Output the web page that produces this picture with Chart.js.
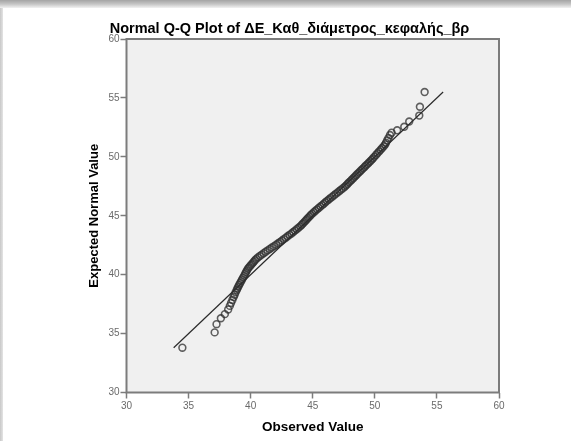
<!DOCTYPE html>
<html>
<head>
<meta charset="utf-8">
<script src="https://cdn.jsdelivr.net/npm/chart.js@4.4.0/dist/chart.umd.min.js"></script>
<style>
	body { margin: 0; width: 571px; height: 441px; overflow: hidden; background: #fff; }
	#topband { position: absolute; left: 0; top: 0; width: 571px; height: 9px;
		background: linear-gradient(to bottom, #a4a4a4 0px, #c4c4c4 4px, #e6e6e6 7px, #ffffff 9px); }
	#leftband { position: absolute; left: 0; top: 8px; width: 3px; height: 433px;
		background: linear-gradient(to right, #c8c8c8, #e4e4e4); }
	#wrap { position: absolute; left: 3px; top: 8px; width: 568px; height: 433px; background: #fff; }
</style>
</head>
<body>
<div id="topband"></div>
<div id="leftband"></div>
<div id="wrap"><canvas id="qq-graph" width="568" height="433"></canvas></div>
<script>
let observed = [
	34.5, 37.1, 37.25, 37.6, 37.92, 38.19, 38.32, 38.42, 38.53, 38.63,
	38.71, 38.79, 38.88, 38.94, 39.01, 39.08, 39.16, 39.24, 39.31, 39.39,
	39.47, 39.55, 39.62, 39.7, 39.78, 39.86, 39.96, 40.06, 40.16, 40.25,
	40.35, 40.45, 40.58, 40.74, 40.89, 41.05, 41.21, 41.37, 41.54, 41.71,
	41.88, 42.05, 42.22, 42.37, 42.53, 42.68, 42.83, 42.98, 43.13, 43.29,
	43.43, 43.57, 43.71, 43.85, 43.99, 44.1, 44.21, 44.32, 44.42, 44.53,
	44.63, 44.74, 44.85, 44.96, 45.09, 45.22, 45.35, 45.48, 45.62, 45.76,
	45.89, 46.02, 46.15, 46.29, 46.43, 46.57, 46.72, 46.86, 47.0, 47.15,
	47.29, 47.43, 47.58, 47.69, 47.8, 47.91, 48.03, 48.14, 48.26, 48.37,
	48.48, 48.59, 48.71, 48.82, 48.94, 49.05, 49.17, 49.28, 49.4, 49.51,
	49.63, 49.74, 49.84, 49.96, 50.09, 50.21, 50.34, 50.47, 50.59, 50.72,
	50.83, 50.9, 51.0, 51.1, 51.22, 51.35, 51.8, 52.37, 52.77, 53.58,
	53.63, 54.01,
];
//expected normal values (y)
let expected = [
	33.8, 35.1, 35.8, 36.3, 36.65, 37.05, 37.35, 37.6, 37.85, 38.1,
	38.3, 38.5, 38.7, 38.85, 39.0, 39.15, 39.3, 39.45, 39.6, 39.75,
	39.9, 40.05, 40.2, 40.35, 40.5, 40.62, 40.74, 40.86, 40.98, 41.1,
	41.22, 41.34, 41.46, 41.58, 41.7, 41.82, 41.94, 42.06, 42.18, 42.3,
	42.42, 42.54, 42.66, 42.78, 42.9, 43.02, 43.14, 43.26, 43.38, 43.5,
	43.62, 43.74, 43.86, 43.98, 44.1, 44.22, 44.34, 44.46, 44.58, 44.7,
	44.82, 44.94, 45.06, 45.18, 45.3, 45.42, 45.54, 45.66, 45.78, 45.9,
	46.02, 46.14, 46.26, 46.38, 46.5, 46.62, 46.74, 46.86, 46.98, 47.1,
	47.22, 47.34, 47.46, 47.58, 47.7, 47.82, 47.94, 48.06, 48.18, 48.3,
	48.42, 48.54, 48.66, 48.78, 48.9, 49.02, 49.14, 49.26, 49.38, 49.5,
	49.62, 49.74, 49.86, 50.0, 50.15, 50.3, 50.45, 50.6, 50.75, 50.9,
	51.05, 51.2, 51.4, 51.6, 51.85, 52.05, 52.25, 52.55, 53.0, 53.5,
	54.25, 55.5,
];
//reference line y = x, start and end
let refLine = [33.8, 55.5];
let axisMin = 30;
let axisMax = 60;
let axisStep = 5;

let titleText = "Normal Q-Q Plot of ΔΕ_Καθ_διάμετρος_κεφαλής_βρ";
let xTitle = "Observed Value";
let yTitle = "Expected Normal Value";

//draws the grey plot box, the frame and the titles
let qqDecor = {
	id: "qqDecor",
	beforeDraw(chart) {
		let ctx = chart.ctx;
		let a = chart.chartArea;
		ctx.save();
		ctx.fillStyle = "#f0f0f0";
		ctx.fillRect(a.left, a.top, a.right - a.left, a.bottom - a.top);
		ctx.restore();
	},
	afterDraw(chart) {
		let ctx = chart.ctx;
		let a = chart.chartArea;
		ctx.save();
		ctx.strokeStyle = "#7c7c7c";
		ctx.lineWidth = 2;
		ctx.strokeRect(a.left, a.top, a.right - a.left, a.bottom - a.top);

		ctx.fillStyle = "#000";
		ctx.textAlign = "center";
		ctx.textBaseline = "alphabetic";
		ctx.font = "bold 14.5px 'Liberation Sans', Arial, sans-serif";
		ctx.fillText(titleText, 286.5, 25);

		ctx.font = "bold 13.5px 'Liberation Sans', Arial, sans-serif";
		ctx.fillText(xTitle, (a.left + a.right) / 2, 423);

		ctx.font = "bold 13px 'Liberation Sans', Arial, sans-serif";
		ctx.translate(94.5, (a.top + a.bottom) / 2);
		ctx.rotate(-Math.PI / 2);
		ctx.fillText(yTitle, 0, 0);
		ctx.restore();
	},
};

$ = (sel) => document.querySelector(sel);

let points = observed.map((v, i) => ({ x: v, y: expected[i] }));
let linePoints = refLine.map((v) => ({ x: v, y: v }));

let tickFont = { family: "'Liberation Sans', Arial, sans-serif", size: 10 };

let qqChart = new Chart($("#qq-graph"), {
	type: "scatter",
	data: {
		datasets: [
			{
				label: "Reference",
				data: linePoints,
				showLine: true,
				borderColor: "#2a2a2a",
				borderWidth: 1.2,
				pointRadius: 0,
				order: 2,
			},
			{
				label: "Observed",
				data: points,
				borderColor: "rgba(45, 45, 45, 0.75)",
				backgroundColor: "rgba(0, 0, 0, 0)",
				borderWidth: 1.6,
				pointRadius: 3.4,
				order: 1,
			},
		],
	},
	options: {
		responsive: false,
		animation: false,
		layout: { padding: { left: 0, right: 72, top: 31, bottom: 0 } },
		plugins: {
			legend: { display: false },
			tooltip: { enabled: false },
		},
		scales: {
			x: {
				type: "linear",
				min: axisMin,
				max: axisMax,
				afterFit: (scale) => { scale.height = 48.5; },
				ticks: { stepSize: axisStep, color: "#6a6a6a", font: tickFont, padding: 2, maxRotation: 0 },
				grid: { drawOnChartArea: false, tickLength: 6, tickColor: "#7c7c7c", tickWidth: 1.5 },
				border: { display: false },
			},
			y: {
				type: "linear",
				min: axisMin,
				max: axisMax,
				afterFit: (scale) => { scale.width = 123.5; },
				ticks: { stepSize: axisStep, color: "#6a6a6a", font: tickFont, padding: 1 },
				grid: { drawOnChartArea: false, tickLength: 6, tickColor: "#7c7c7c", tickWidth: 1.5 },
				border: { display: false },
			},
		},
	},
	plugins: [qqDecor],
});
</script>
</body>
</html>
